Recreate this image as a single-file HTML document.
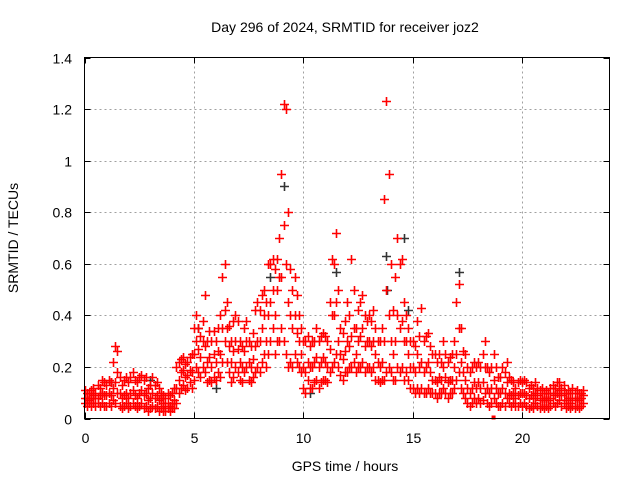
<!DOCTYPE html>
<html><head><meta charset="utf-8"><style>
body{margin:0;background:#fff}
svg{display:block;font-family:"Liberation Sans",sans-serif}
</style></head><body>
<svg id="chart" width="640" height="480">
<text x="345" y="32" font-size="14" text-anchor="middle">Day 296 of 2024, SRMTID for receiver joz2</text>
<text x="345" y="471" font-size="14" text-anchor="middle">GPS time / hours</text>
<text transform="translate(18,238) rotate(-90)" font-size="14" text-anchor="middle">SRMTID / TECUs</text>
<g id="grid"></g><g id="ticks"></g><g id="marks"></g>
<rect x="84.5" y="57.5" width="525" height="361" fill="none" stroke="#000"/>
</svg>
<script>
const xTicks=[0,5,10,15,20];
const yTicks=[0,0.2,0.4,0.6,0.8,1,1.2,1.4];
const yTickLabels=["0","0.2","0.4","0.6","0.8","1","1.2","1.4"];
const t0=0, tStep=0.1;
const redLow=[.06,.05,.06,.05,.06,.05,.06,.05,.06,.05,.05,.06,.05,.07,.06,.1,.05,.04,.05,.06,.04,.05,.06,.05,.04,.05,.06,.04,.05,.03,.04,.05,.04,.05,.03,.04,.03,.03,.04,.03,.04,.04,.06,.1,.12,.13,.11,.12,.14,.12,.15,.2,.18,.16,.2,.18,.14,.15,.14,.16,.15,.18,.16,.22,.3,.22,.18,.14,.16,.2,.18,.15,.14,.18,.2,.15,.14,.16,.18,.2,.18,.22,.25,.2,.25,.3,.35,.25,.3,.3,.35,.3,.25,.2,.22,.2,.25,.22,.2,.18,.12,.1,.15,.12,.12,.14,.15,.12,.14,.15,.15,.14,.18,.2,.22,.25,.2,.17,.15,.18,.18,.2,.2,.22,.18,.2,.2,.22,.18,.2,.2,.18,.2,.15,.15,.14,.15,.15,.18,.2,.18,.15,.15,.2,.18,.2,.15,.18,.15,.12,.12,.1,.12,.1,.12,.1,.1,.12,.1,.1,.1,.08,.1,.1,.12,.1,.08,.1,.1,.12,.15,.18,.12,.1,.08,.06,.05,.06,.08,.06,.08,.06,.07,.1,.06,.05,.06,.08,.06,.05,.05,.06,.05,.08,.06,.05,.06,.05,.05,.06,.05,.06,.05,.04,.05,.04,.06,.05,.04,.05,.04,.05,.04,.05,.06,.05,.06,.07,.05,.06,.04,.05,.04,.05,.04,.05,.04,.05,.06];
const redMid=[.08,.08,.07,.08,.09,.08,.08,.09,.1,.09,.09,.1,.09,.12,.14,.18,.1,.08,.09,.1,.08,.1,.11,.09,.08,.1,.11,.09,.1,.07,.08,.1,.08,.09,.07,.08,.06,.05,.06,.05,.06,.07,.12,.15,.18,.19,.16,.17,.19,.18,.25,.3,.27,.24,.3,.28,.22,.24,.2,.25,.22,.26,.25,.35,.42,.35,.28,.22,.26,.3,.27,.22,.2,.26,.3,.22,.2,.23,.28,.3,.3,.35,.4,.3,.4,.45,.5,.4,.5,.55,.55,.75,.6,.45,.4,.35,.4,.33,.3,.25,.2,.18,.22,.2,.2,.22,.24,.2,.22,.24,.22,.2,.27,.4,.4,.45,.3,.25,.23,.26,.3,.28,.32,.35,.25,.3,.32,.35,.28,.3,.3,.28,.3,.25,.22,.2,.22,.3,.5,.4,.3,.25,.3,.4,.35,.38,.3,.3,.25,.2,.2,.18,.25,.2,.22,.18,.2,.22,.18,.15,.15,.14,.16,.15,.2,.16,.14,.15,.15,.2,.25,.35,.22,.18,.15,.12,.1,.12,.14,.12,.14,.12,.14,.2,.12,.1,.12,.15,.12,.1,.1,.12,.1,.14,.1,.09,.1,.08,.09,.1,.1,.1,.09,.08,.09,.08,.1,.09,.07,.08,.07,.08,.07,.08,.1,.09,.1,.11,.09,.1,.07,.08,.06,.08,.07,.08,.07,.08,.09];
const redHigh=[.11,.1,.1,.11,.12,.1,.13,.12,.15,.14,.13,.15,.14,.22,.28,.26,.16,.13,.15,.16,.14,.16,.18,.15,.14,.16,.17,.15,.16,.12,.13,.16,.13,.14,.12,.1,.09,.08,.1,.09,.1,.12,.2,.22,.23,.24,.21,.22,.24,.25,.35,.4,.35,.32,.38,.48,.3,.34,.3,.34,.3,.35,.4,.55,.6,.45,.36,.3,.38,.4,.38,.3,.28,.35,.38,.3,.28,.33,.42,.45,.42,.48,.5,.45,.6,.6,.62,.58,.62,.7,.95,1.22,1.2,.8,.58,.5,.55,.48,.4,.35,.3,.3,.32,.28,.3,.3,.35,.3,.32,.33,.32,.3,.45,.62,.6,.72,.5,.35,.33,.38,.45,.4,.62,.5,.35,.42,.45,.48,.4,.38,.4,.38,.42,.35,.3,.3,.35,.85,1.23,.95,.6,.42,.55,.7,.6,.62,.45,.4,.35,.3,.3,.28,.38,.32,.43,.3,.32,.33,.28,.25,.25,.22,.25,.22,.3,.25,.22,.24,.25,.3,.45,.52,.35,.26,.25,.2,.18,.2,.22,.2,.22,.2,.25,.3,.2,.18,.2,.25,.2,.16,.16,.2,.18,.22,.16,.15,.14,.12,.14,.15,.14,.15,.14,.12,.13,.12,.14,.12,.11,.12,.1,.11,.1,.12,.13,.12,.14,.14,.12,.13,.1,.11,.1,.12,.1,.11,.1,.1,.11];
const blackX=[1.2,3.0,5.2,6.0,8.5,9.1,10.3,11.5,13.8,13.85,14.6,14.8,17.1];
const blackY=[.14,.15,.35,.12,.55,.9,.1,.57,.63,.5,.7,.42,.57];
const X0=84.5,X1=609.5,Y0=418.5,Y1=57.5;
const xs=v=>X0+(v/24)*(X1-X0);
const ys=v=>Y0-(v/1.4)*(Y0-Y1);
const NS="http://www.w3.org/2000/svg";
const grid=document.getElementById('grid'),ticks=document.getElementById('ticks'),marks=document.getElementById('marks');
function line(p,x1,y1,x2,y2,st,dash){const l=document.createElementNS(NS,'line');l.setAttribute('x1',x1);l.setAttribute('y1',y1);l.setAttribute('x2',x2);l.setAttribute('y2',y2);l.setAttribute('stroke',st);if(dash)l.setAttribute('stroke-dasharray',dash);p.appendChild(l);return l;}
xTicks.forEach(v=>{const x=Math.round(xs(v))+0.5;
 if(v>0){const g=line(grid,x,Y0,x,Y1,'#a0a0a0','2,3');
 
 }
 line(ticks,x,Y0,x,Y0-6,'#000');line(ticks,x,Y1,x,Y1+6,'#000');
 const t=document.createElementNS(NS,'text');t.setAttribute('x',x);t.setAttribute('y',443);t.setAttribute('font-size','14');t.setAttribute('text-anchor','middle');t.textContent=v;
 
 
 ticks.appendChild(t);});
yTicks.forEach((v,i)=>{const y=Math.round(ys(v))+0.5;
 if(v>0&&v<1.4){const g=line(grid,X0,y,X1,y,'#a0a0a0','2,3');
 
 }
 line(ticks,X0,y,X0+6,y,'#000');line(ticks,X1,y,X1-6,y,'#000');
 const t=document.createElementNS(NS,'text');t.setAttribute('x',72);t.setAttribute('y',y+5);t.setAttribute('font-size','14');t.setAttribute('text-anchor','end');t.textContent=yTickLabels[i];
 
 
 ticks.appendChild(t);});
function plus(px,py,col,name){const p=document.createElementNS(NS,'path');
 const x=Math.round(px)+0.5,y=Math.round(py)+0.5;
 p.setAttribute('d',`M${x-4.5} ${y}H${x+4.5}M${x} ${y-4.5}V${y+4.5}`);p.setAttribute('stroke',col);p.setAttribute('stroke-width','1.6');
 
 
 marks.appendChild(p);}
blackX.forEach((v,i)=>plus(xs(v),ys(blackY[i]),'#333','black-point'));
[redLow,redMid,redHigh].forEach(arr=>arr.forEach((v,i)=>plus(xs(t0+i*tStep),ys(v),'#f00','red-point')));
const sq=document.createElementNS(NS,'rect');sq.setAttribute('x',xs(18.7)-2);sq.setAttribute('y',ys(0)-3);sq.setAttribute('width',4);sq.setAttribute('height',4);sq.setAttribute('fill','#f00');


marks.appendChild(sq);
</script>
</body></html>
